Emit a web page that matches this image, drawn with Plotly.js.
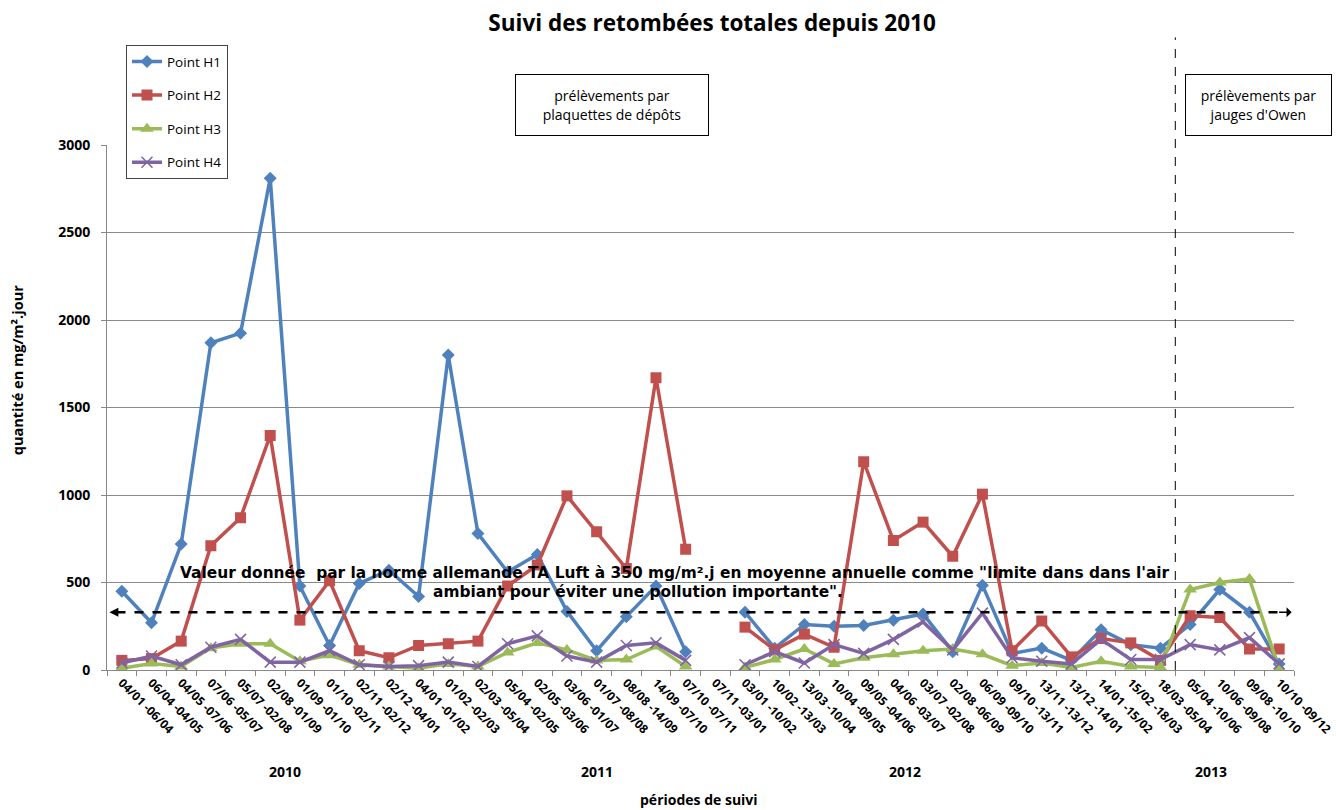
<!DOCTYPE html>
<html>
<head>
<meta charset="utf-8">
<script src="https://cdn.plot.ly/plotly-3.0.1.min.js"></script>
<style>html,body{margin:0;padding:0;background:#fff;}#chart{width:1336px;height:810px;}</style>
</head>
<body>
<div id="chart"></div>
<script>
const categories = [
  "04/01 -06/04","06/04 -04/05","04/05 -07/06","07/06 -05/07","05/07 -02/08","02/08 -01/09",
  "01/09 -01/10","01/10 -02/11","02/11 -02/12","02/12 -04/01","04/01 -01/02","01/02 -02/03",
  "02/03 -05/04","05/04 -02/05","02/05 -03/06","03/06 -01/07","01/07 -08/08","08/08 -14/09",
  "14/09 -07/10","07/10 -07/11","07/11 -03/01","03/01 -10/02","10/02 -13/03","13/03 -10/04",
  "10/04 -09/05","09/05 -04/06","04/06 -03/07","03/07 -02/08","02/08 -06/09","06/09 -09/10",
  "09/10 -13/11","13/11 -13/12","13/12 -14/01","14/01 -15/02","15/02 -18/03","18/03 -05/04",
  "05/04 -10/06","10/06 -09/08","09/08 -10/10","10/10 -09/12"
];
const pointH1 = [450,270,720,1870,1925,2810,480,140,495,570,420,1800,780,560,660,335,110,305,480,105,
  null,330,125,260,250,255,285,320,105,485,95,125,55,230,145,125,260,460,330,35];
const pointH2 = [55,65,165,710,870,1340,285,510,110,70,140,150,165,480,600,995,790,580,1670,690,
  null,245,115,205,130,1190,740,845,650,1005,110,280,75,180,155,55,310,300,120,120];
const pointH3 = [10,37,20,125,150,150,50,85,30,20,10,35,20,100,155,115,55,60,135,20,
  null,15,60,120,35,70,90,110,120,90,25,40,15,50,20,15,460,500,520,5];
const pointH4 = [40,80,30,130,175,45,45,110,30,20,25,45,20,150,195,80,45,140,155,55,
  null,30,105,40,145,95,175,275,115,325,70,50,35,175,60,60,145,115,185,35];
const yearLabels = ["2010","2011","2012","2013"];
const seriesNames = ["Point H1","Point H2","Point H3","Point H4"];

const colors = ["#4F81BD","#C0504D","#9BBB59","#8064A2"];
const symbols = ["diamond","square","triangle-up","x-thin-open"];
const msizes = [10,11,12,11];
const series = [pointH1,pointH2,pointH3,pointH4];

const traces = series.map((s,i)=>({
  type:'scatter', mode:'lines+markers', x:categories, y:s, name:seriesNames[i],
  legendgroup:'g'+i,
  line:{color:colors[i], width:3.5},
  marker:{symbol:symbols[i], size:msizes[i], color:colors[i],
          line:{color:colors[i], width: i===3?1.5:0}},
  connectgaps:false
}));

const FONT = "'Open Sans', Lato, sans-serif";
const ARIAL = "'DejaVu Sans', 'Liberation Sans', sans-serif";
const yearPos = [5.5, 16, 26.4, 36.7];

const annotations = yearLabels.map((t,i)=>({
  text:'<b>'+t+'</b>', xref:'x', yref:'paper', x:yearPos[i], y:-0.194, yanchor:'middle', showarrow:false,
  font:{family:FONT, size:14, color:'#000'}
}));
annotations.push({
  text:'<b>périodes de suivi</b>', xref:'paper', yref:'paper', x:0.499, y:-0.2476, yanchor:'middle', showarrow:false,
  font:{family:FONT, size:14, color:'#000'}
});
annotations.push({
  text:'<b>quantité en mg/m².jour</b>', xref:'paper', yref:'paper', x:-0.0758, y:0.571,
  xanchor:'center', yanchor:'middle', textangle:-90, showarrow:false,
  font:{family:FONT, size:14.5, color:'#000'}
});
annotations.push({
  text:'prélèvements par<br>plaquettes de dépôts', xref:'paper', yref:'paper',
  x:0.4255, y:1.077, xanchor:'center', yanchor:'middle', showarrow:false, width:190, height:58,
  bordercolor:'#000', borderwidth:1, bgcolor:'#fff',
  font:{family:FONT, size:14, color:'#000'}
});
annotations.push({
  text:'prélèvements par<br>jauges d\'Owen', xref:'paper', yref:'paper',
  x:0.9705, y:1.077, xanchor:'center', yanchor:'middle', showarrow:false, width:143, height:58,
  bordercolor:'#000', borderwidth:1, bgcolor:'#fff',
  font:{family:FONT, size:14, color:'#000'}
});
annotations.push({
  text:'<b>Valeur donnée  par la norme allemande TA Luft à 350 mg/m².j en moyenne annuelle comme "limite dans dans l\'air</b>',
  xref:'paper', yref:'y', x:0.4785, y:554, yanchor:'middle', showarrow:false,
  font:{family:ARIAL, size:15.4, color:'#000'}
});
annotations.push({
  text:'<b>ambiant pour éviter une pollution importante".</b>',
  xref:'paper', yref:'y', x:0.4474, y:446, yanchor:'middle', showarrow:false,
  font:{family:ARIAL, size:15.4, color:'#000'}
});
// arrow heads of the 350 line
annotations.push({xref:'paper', yref:'y', x:0.002, y:330, ax:14, ay:0,
  showarrow:true, arrowhead:2, arrowsize:1.2, arrowwidth:1.5, arrowcolor:'#000', text:''});
annotations.push({xref:'paper', yref:'y', x:0.998, y:330, ax:-14, ay:0,
  showarrow:true, arrowhead:1, arrowsize:1.3, arrowwidth:1.3, arrowcolor:'#000', text:''});

const shapes = [
  {type:'line', xref:'paper', yref:'y', x0:0.008, x1:0.99, y0:330, y1:330,
   line:{color:'#000', width:2.5, dash:'dash'}},
  {type:'line', xref:'x', yref:'paper', x0:35.5, x1:35.5, y0:0, y1:1.205,
   line:{color:'#000', width:1, dash:'dash'}}
];

const layout = {
  width:1336, height:810,
  margin:{l:107, r:42, t:145, b:140},
  paper_bgcolor:'#fff', plot_bgcolor:'#fff',
  title:{text:'<b>Suivi des retombées totales depuis 2010</b>', x:0.533, xanchor:'center', y:0.972, yanchor:'middle',
    font:{family:FONT, size:22.5, color:'#000'}},
  font:{family:FONT, color:'#000'},
  showlegend:true,
  legend:{x:0.016, y:1.19, xanchor:'left', yanchor:'top', bordercolor:'#444', borderwidth:1,
    bgcolor:'#fff', tracegroupgap:13, font:{family:FONT, size:13.5, color:'#000'},
    itemwidth:30},
  xaxis:{type:'category', tickson:'boundaries', ticks:'outside', ticklen:5, tickcolor:'#888',
    showline:true, linecolor:'#888', linewidth:1, showgrid:false, tickangle:45,
    tickfont:{family:FONT, size:12, color:'#000', weight:'bold'}, range:[-0.5,39.5], automargin:false},
  yaxis:{range:[0,3000], dtick:500, showgrid:true, gridcolor:'#888', gridwidth:1,
    showline:true, linecolor:'#888', ticks:'outside', ticklen:5, tickcolor:'#888', zeroline:false,
    ticklabelstandoff:8,
    tickfont:{family:FONT, size:14, color:'#000', weight:'bold'},
    automargin:false},
  annotations:annotations,
  shapes:shapes
};

Plotly.newPlot('chart', traces, layout, {displayModeBar:false, staticPlot:true});
</script>
</body>
</html>
